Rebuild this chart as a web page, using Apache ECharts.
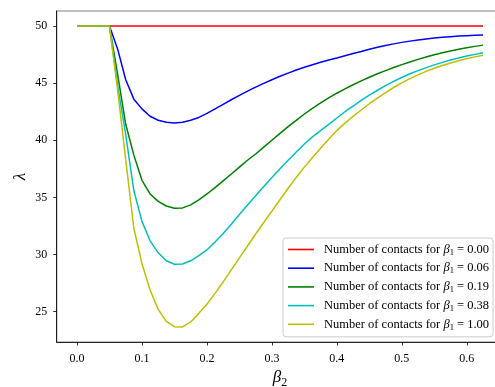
<!DOCTYPE html>
<html>
<head>
<meta charset="utf-8">
<script src="https://cdn.jsdelivr.net/npm/echarts@6/dist/echarts.min.js"></script>
<style>
  html, body { margin: 0; padding: 0; background: #fff; }
  #chart { width: 495px; height: 387px; }
</style>
</head>
<body>
<div id="chart"></div>
<script>
// beta_2 sample points
const beta2 = [0, 0.0125, 0.025, 0.0375, 0.05, 0.0625, 0.075, 0.0875, 0.1, 0.1125,
  0.125, 0.1375, 0.15, 0.1625, 0.175, 0.1875, 0.2, 0.2125, 0.225, 0.2375,
  0.25, 0.2625, 0.275, 0.2875, 0.3, 0.3125, 0.325, 0.3375, 0.35, 0.3625,
  0.375, 0.3875, 0.4, 0.4125, 0.425, 0.4375, 0.45, 0.4625, 0.475, 0.4875,
  0.5, 0.5125, 0.525, 0.5375, 0.55, 0.5625, 0.575, 0.5875, 0.6, 0.6125, 0.625];

// lambda for each beta_1
const lambdaB100 = [50, 50, 50, 50, 50, 50, 50, 50, 50, 50,
  50, 50, 50, 50, 50, 50, 50, 50, 50, 50,
  50, 50, 50, 50, 50, 50, 50, 50, 50, 50,
  50, 50, 50, 50, 50, 50, 50, 50, 50, 50,
  50, 50, 50, 50, 50, 50, 50, 50, 50, 50, 50];
const lambdaB006 = [50, 50, 50, 50, 50, 48.0, 45.3, 43.6, 42.75, 42.1,
  41.75, 41.57, 41.52, 41.58, 41.75, 42.0, 42.35, 42.75, 43.15, 43.55,
  43.93, 44.3, 44.65, 44.98, 45.3, 45.6, 45.88, 46.15, 46.4, 46.62,
  46.83, 47.02, 47.2, 47.4, 47.6, 47.78, 47.97, 48.14, 48.3, 48.44,
  48.57, 48.68, 48.78, 48.87, 48.95, 49.02, 49.07, 49.12, 49.16, 49.19, 49.22];
const lambdaB019 = [50, 50, 50, 50, 50, 45.8, 41.4, 38.7, 36.5, 35.3,
  34.65, 34.25, 34.05, 34.08, 34.35, 34.78, 35.3, 35.85, 36.45, 37.05,
  37.65, 38.25, 38.8, 39.4, 40.0, 40.6, 41.2, 41.75, 42.3, 42.8,
  43.28, 43.72, 44.12, 44.5, 44.86, 45.2, 45.52, 45.82, 46.1, 46.37,
  46.62, 46.86, 47.08, 47.29, 47.48, 47.66, 47.82, 47.97, 48.1, 48.22, 48.33];
const lambdaB038 = [50, 50, 50, 50, 50, 44.8, 40.5, 35.6, 32.9, 31.2,
  30.15, 29.45, 29.15, 29.17, 29.45, 29.9, 30.4, 31.1, 31.85, 32.65,
  33.5, 34.33, 35.15, 35.95, 36.75, 37.5, 38.25, 38.98, 39.68, 40.3,
  40.85, 41.4, 41.95, 42.5, 43.0, 43.5, 43.95, 44.38, 44.78, 45.15,
  45.5, 45.82, 46.1, 46.36, 46.6, 46.82, 47.02, 47.2, 47.37, 47.52, 47.66];
const lambdaB1 = [50, 50, 50, 50, 50, 44.4, 38.3, 32.3, 29.2, 26.9,
  25.2, 24.15, 23.68, 23.66, 24.1, 24.85, 25.65, 26.6, 27.6, 28.65,
  29.7, 30.75, 31.8, 32.8, 33.8, 34.8, 35.8, 36.75, 37.65, 38.5,
  39.3, 40.1, 40.85, 41.5, 42.1, 42.65, 43.2, 43.7, 44.18, 44.62,
  45.03, 45.4, 45.73, 46.03, 46.3, 46.54, 46.76, 46.96, 47.14, 47.3, 47.45];

const beta1Labels = ['0.00', '0.06', '0.19', '0.38', '1.00'];
const seriesValues = [lambdaB100, lambdaB006, lambdaB019, lambdaB038, lambdaB1];
const lineColors = ['#ff0000', '#0000ff', '#008000', '#00bfbf', '#bfbf00'];

const xTicks = [0, 0.1, 0.2, 0.3, 0.4, 0.5, 0.6];
const yTicks = [25, 30, 35, 40, 45, 50];

const SERIF = '"Liberation Serif", "DejaVu Serif", serif';

const series = beta1Labels.map((b, i) => ({
  name: 'Number of contacts for β1 = ' + b,
  type: 'line',
  data: beta2.map((x, j) => [x, seriesValues[i][j]]),
  symbol: 'none',
  lineStyle: { color: lineColors[i], width: 1.5 },
  itemStyle: { color: lineColors[i] },
  emphasis: { disabled: true },
  animation: false
}));

const chart = echarts.init(document.getElementById('chart'), null, { renderer: 'canvas' });
chart.setOption({
  animation: false,
  backgroundColor: '#ffffff',
  grid: {
    left: 56.7, top: 11, right: -8.3, bottom: 45,
    outerBoundsMode: 'none',
    containLabel: false,
    show: true, borderColor: '#808080', borderWidth: 1.2, backgroundColor: 'transparent'
  },
  xAxis: {
    type: 'value',
    min: -0.03125, max: 0.65625,
    name: '{b|β}{s|2}',
    nameLocation: 'middle',
    nameGap: 24,
    nameTextStyle: {
      rich: {
        b: { fontFamily: SERIF, fontStyle: 'italic', fontSize: 17, color: '#000', lineHeight: 20 },
        s: { fontFamily: SERIF, fontSize: 12, color: '#000', verticalAlign: 'bottom', lineHeight: 22 }
      }
    },
    axisLine: { show: true, onZero: false, lineStyle: { color: '#000', width: 0.8 } },
    axisTick: { show: true, inside: false, length: 3.5, lineStyle: { color: '#000', width: 0.8 }, customValues: xTicks },
    axisLabel: {
      customValues: xTicks, margin: 10.5,
      fontFamily: SERIF, fontSize: 12, color: '#000',
      formatter: v => v.toFixed(1)
    },
    splitLine: { show: false }
  },
  yAxis: {
    type: 'value',
    min: 22.343, max: 51.317,
    name: 'λ',
    nameLocation: 'middle',
    nameRotate: 90,
    nameGap: 28,
    nameMoveOverlap: false,
    nameTextStyle: { fontFamily: SERIF, fontStyle: 'italic', fontSize: 17, color: '#000' },
    axisLine: { show: true, onZero: false, lineStyle: { color: '#000', width: 0.8 } },
    axisTick: { show: true, inside: false, length: 3.5, lineStyle: { color: '#000', width: 0.8 }, customValues: yTicks },
    axisLabel: {
      customValues: yTicks, margin: 9.5,
      fontFamily: SERIF, fontSize: 12, color: '#000',
      formatter: v => String(v)
    },
    splitLine: { show: false }
  },
  legend: {
    orient: 'vertical',
    left: 283, top: 238,
    padding: [5, 4, 5, 5],
    icon: 'rect',
    itemWidth: 26, itemHeight: 1.6, itemGap: 4.7,
    backgroundColor: 'rgba(255,255,255,0.8)',
    borderColor: '#cccccc', borderWidth: 1, borderRadius: 3,
    selectedMode: false,
    data: series.map(s => s.name),
    formatter: name => {
      const val = name.split('= ')[1];
      return '{t|Number of contacts for }{b|β}{s|1}{t| = ' + val + '}';
    },
    textStyle: {
      padding: [0, 0, 0, 5],
      rich: {
        t: { fontFamily: SERIF, fontSize: 12.5, color: '#000', lineHeight: 15 },
        b: { fontFamily: SERIF, fontSize: 12.5, fontStyle: 'italic', color: '#000', lineHeight: 15 },
        s: { fontFamily: SERIF, fontSize: 8.5, color: '#000', verticalAlign: 'bottom', lineHeight: 15 }
      }
    }
  },
  series: series
});
</script>
</body>
</html>
